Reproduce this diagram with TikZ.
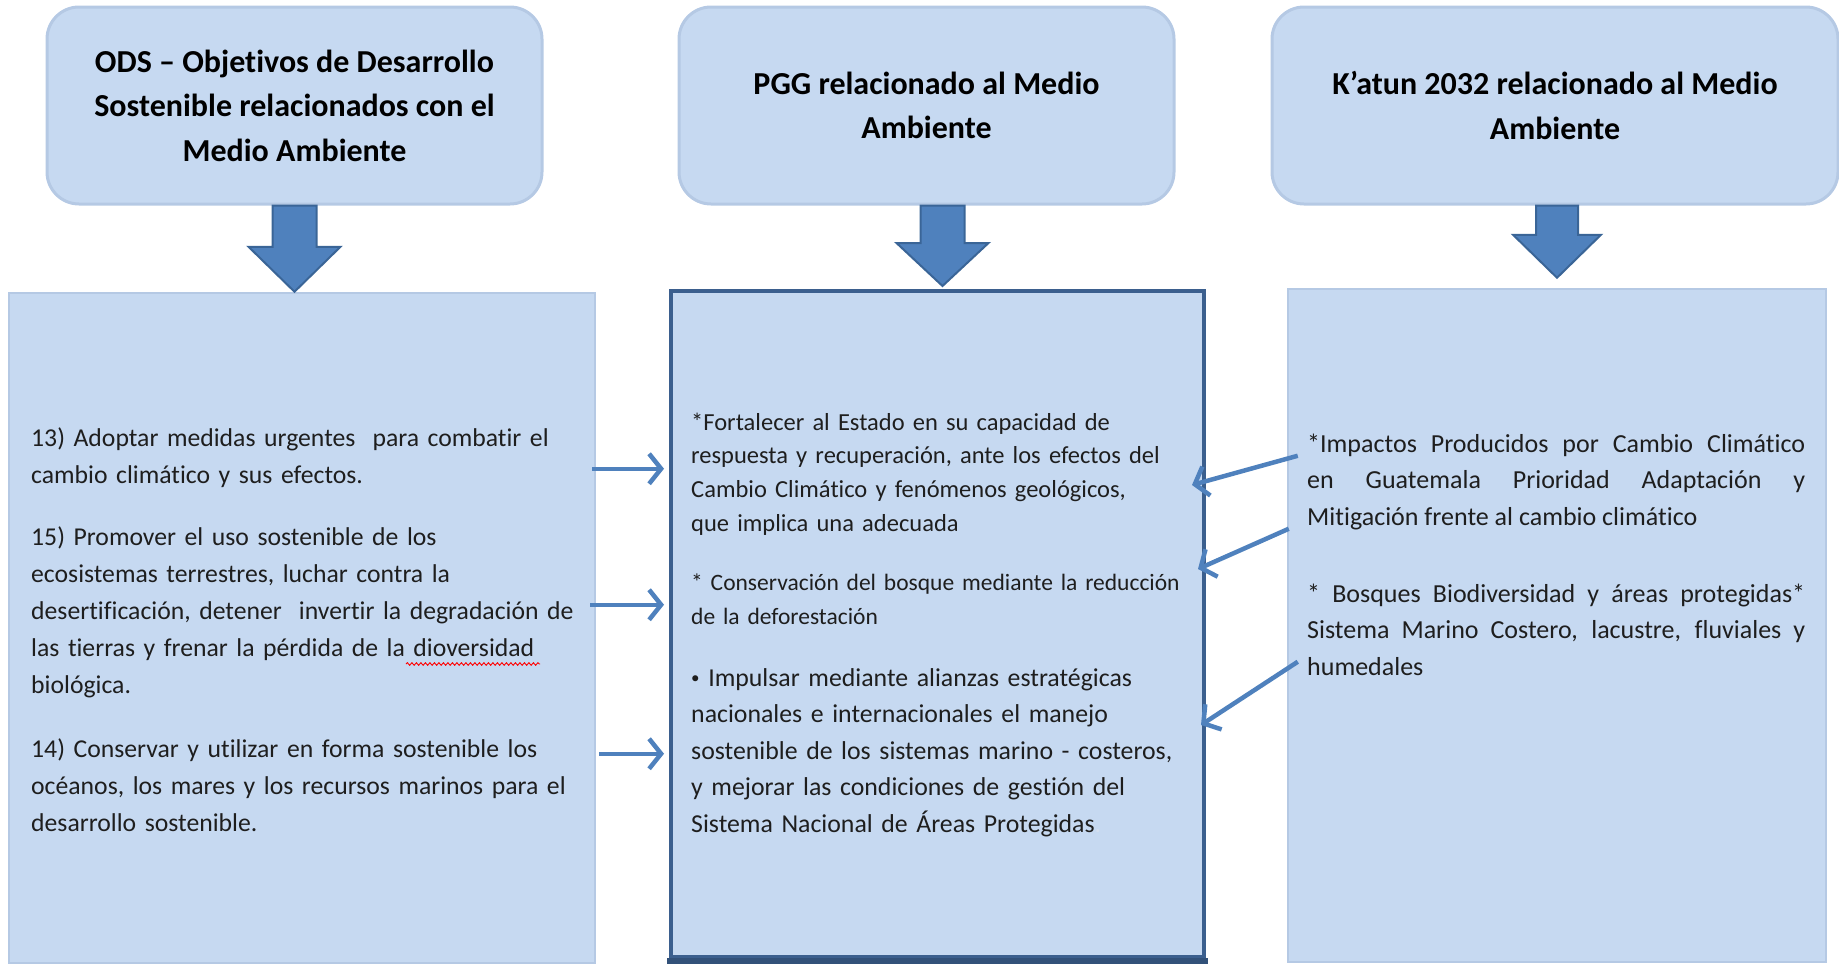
\documentclass[tikz,border=0pt]{standalone}
\usepackage{fontspec}
\setmainfont{Carlito}[Ligatures=NoCommon]
\usetikzlibrary{arrows.meta,calc,decorations.pathmorphing}
\definecolor{boxfill}{HTML}{C6D9F1}
\definecolor{boxedge}{HTML}{B5C9E4}
\definecolor{arrfill}{HTML}{4F81BD}
\definecolor{arredge}{HTML}{3A6597}
\definecolor{midedge}{HTML}{3B5F8E}
\definecolor{txt}{HTML}{1E1E1E}
\tikzset{
  topbox/.style={draw=boxedge, line width=3pt, fill=boxfill, rounded corners=32pt, align=center,
    font=\bfseries\fontsize{32}{44.5}\selectfont, text=black, inner sep=0pt},
  lowbox/.style={draw=boxedge, line width=2.5pt, fill=boxfill, inner sep=0pt},
  midbox/.style={draw=midedge, line width=4pt, fill=boxfill, inner sep=0pt},
  blockarr/.style={fill=arrfill, draw=arredge, line width=2pt, line join=miter},
  conn/.style={draw=arrfill, line width=4.5pt, -{Straight Barb[length=12pt,width=30pt]}},
  ltext/.style={anchor=base west, inner sep=0pt, text width=570pt, align=left, text=txt,
    font=\fontsize{25.7}{37.2}\selectfont},
  mtext/.style={anchor=base west, inner sep=0pt, text width=508pt, align=left, text=txt,
    font=\fontsize{23.5}{35.5}\selectfont},
  rtext/.style={anchor=base west, inner sep=0pt, text width=498pt, align=justify, text=txt,
    font=\fontsize{26}{36.5}\selectfont},
}
\begin{document}
\begin{tikzpicture}[x=1pt,y=-1pt]
\useasboundingbox (0,0) rectangle (1839,964);

% top boxes
\node[topbox, minimum width=495pt, minimum height=197pt] (t1) at (294.5,105.5)
  {ODS -- Objetivos de Desarrollo\\Sostenible relacionados con el\\Medio Ambiente};
\node[topbox, minimum width=495pt, minimum height=197pt] (t2) at (926.5,105.5)
  {PGG relacionado al Medio\\Ambiente};
\node[topbox, minimum width=566pt, minimum height=197pt] (t3) at (1555,105.5)
  {K’atun 2032 relacionado al Medio\\Ambiente};

% lower boxes
\node[lowbox, minimum width=586pt, minimum height=670pt] (b1) at (302,628) {};
\node[midbox, minimum width=533pt, minimum height=666pt] (b2) at (937.5,624) {};
\draw[midedge!85!black, line width=6pt] ($(b2.south west)+(-2,2)$) -- ($(b2.south east)+(2,2)$);
\node[lowbox, minimum width=538pt, minimum height=673pt] (b3) at (1557,625.5) {};

% block arrows
\path[blockarr] let \p1=(t1.south), \p2=(b1.north) in
  (\x1-22pt,\y1) -- (\x1+22pt,\y1) -- (\x1+22pt,\y2+45pt) -- (\x1+46pt,\y2+45pt)
  -- (\x1,\y2) -- (\x1-46pt,\y2+45pt) -- (\x1-22pt,\y2+45pt) -- cycle;
\path[blockarr] let \p1=($(t2.south)+(16,0)$), \p2=($(b2.north)+(0,-3)$) in
  (\x1-22pt,\y1) -- (\x1+22pt,\y1) -- (\x1+22pt,\y2+43pt) -- (\x1+46pt,\y2+43pt)
  -- (\x1,\y2) -- (\x1-46pt,\y2+43pt) -- (\x1-22pt,\y2+43pt) -- cycle;
\path[blockarr] let \p1=($(t3.south)+(2,0)$), \p2=($(b3.north)+(0,-10)$) in
  (\x1-21pt,\y1) -- (\x1+21pt,\y1) -- (\x1+21pt,\y2+43pt) -- (\x1+44pt,\y2+43pt)
  -- (\x1,\y2) -- (\x1-44pt,\y2+43pt) -- (\x1-21pt,\y2+43pt) -- cycle;

% left column text
\node[ltext] (p13) at (31,446) {13) Adoptar medidas urgentes\ \ para combatir el\\cambio climático y sus efectos.};
\node[ltext] (p15) at (31,545) {15) Promover el uso sostenible de los\\ecosistemas terrestres, luchar contra la\\desertificación, detener\ \ invertir la degradación de\\las tierras y frenar la pérdida de la dioversidad\\biológica.};
\node[ltext] (p14) at (31,757) {14) Conservar y utilizar en forma sostenible los\\océanos, los mares y los recursos marinos para el\\desarrollo sostenible.};
\draw[red, line width=0.9pt, decorate, decoration={snake, amplitude=1.3pt, segment length=4.5pt}]
  (406,664) -- (540,664);

% middle column text
\node[mtext, font=\fontsize{24.5}{33.8}\selectfont] (m1) at (691,430) {*Fortalecer al Estado en su capacidad de\\respuesta y recuperación, ante los efectos del\\Cambio Climático y fenómenos geológicos,\\que implica una adecuada};
\node[mtext, font=\fontsize{23.5}{34}\selectfont] (m2) at (691,590) {* Conservación del bosque mediante la reducción\\de la deforestación};
\node[mtext, font=\fontsize{25.8}{36.5}\selectfont] (m3) at (691,686) {{\fontsize{17}{17}\selectfont\raisebox{0.12em}{•}}\ Impulsar mediante alianzas estratégicas\\nacionales e internacionales el manejo\\sostenible de los sistemas marino - costeros,\\y mejorar las condiciones de gestión del\\Sistema Nacional de Áreas Protegidas\textcolor{boxedge!60!white}{.}};

% right column text
\node[rtext] (r1) at (1307,452) {*Impactos Producidos por Cambio Climático\linebreak en Guatemala Prioridad Adaptación y\linebreak Mitigación frente al cambio climático};
\node[rtext] (r2) at (1307,602) {* Bosques Biodiversidad y áreas protegidas*\linebreak Sistema Marino Costero, lacustre, fluviales y\linebreak humedales};

% connectors left -> middle
\coordinate (l1) at ($(b1.north east)+(-4,177)$);
\coordinate (l2) at ($(b1.north east)+(-6,313)$);
\coordinate (l3) at ($(b1.north east)+(3,462)$);
\draw[conn, shorten >=5pt] (l1) -- (l1 -| b2.west);
\draw[conn, shorten >=5pt] (l2) -- (l2 -| b2.west);
\draw[conn, shorten >=5pt] (l3) -- (l3 -| b2.west);

% connectors right -> middle
\draw[conn] ($(b3.north west)+(11,168)$) -- ($(b2.north east)+(-14,196)$);
\draw[conn] ($(b3.north west)+(2,241)$) -- ($(b2.north east)+(-8,280)$);
\draw[conn] ($(b3.north west)+(11,374)$) -- ($(b2.north east)+(-5,436)$);
\end{tikzpicture}
\end{document}
